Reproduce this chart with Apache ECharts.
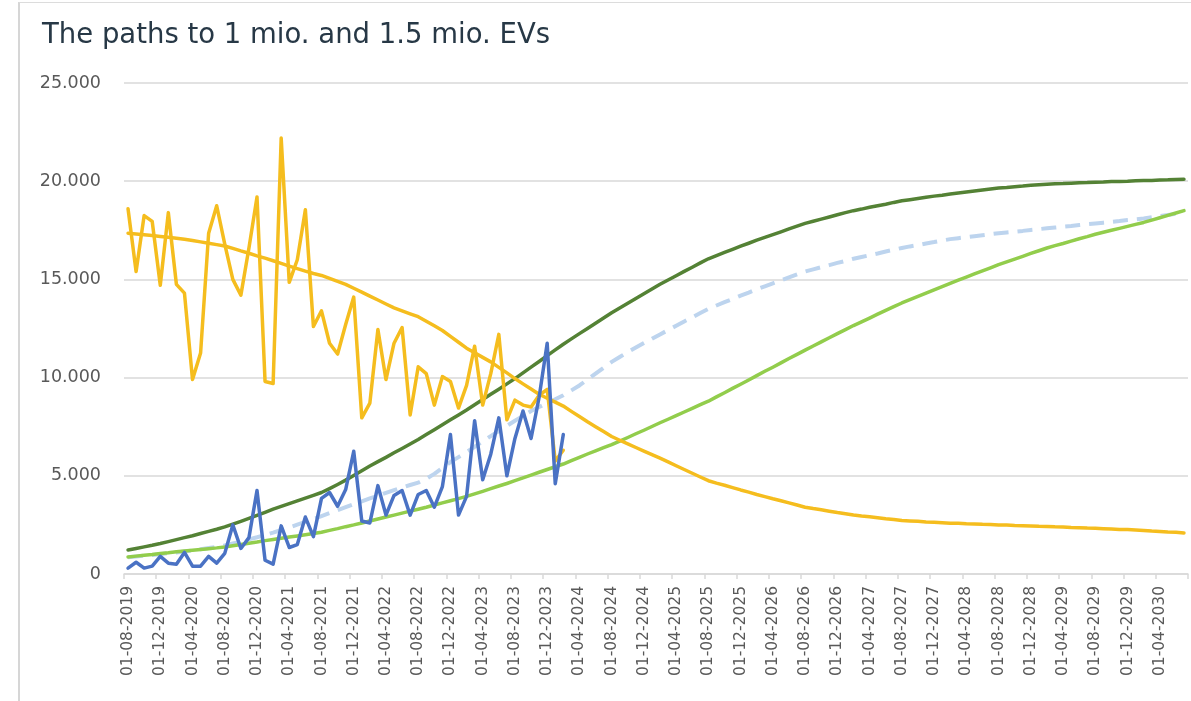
<!DOCTYPE html>
<html>
<head>
<meta charset="utf-8">
<script src="https://cdn.jsdelivr.net/npm/echarts@6/dist/echarts.min.js"></script>
<style>
  html, body { margin: 0; padding: 0; background: #ffffff; }
  #chart { position: absolute; left: 0; top: 0; width: 1191px; height: 701px; }
  #frame { position: absolute; left: 18px; top: 2px; width: 1173px; height: 699px;
           border-left: 2px solid #d6d6d6; border-top: 1px solid #dcdcdc; box-sizing: border-box; pointer-events: none; }
</style>
</head>
<body>
<div id="chart"></div>
<div id="frame"></div>
<script>
// Monthly categories 01-08-2019 ... 01-07-2030
const categories = [];
for (let k = 0; k < 132; k++) {
  const m = (7 + k) % 12 + 1;
  const y = 2019 + Math.floor((7 + k) / 12);
  categories.push('01-' + String(m).padStart(2, '0') + '-' + y);
}
const yTicks = [0, 5000, 10000, 15000, 20000, 25000];

// Actual monthly values (noisy)
const yellowActual = [18600, 15400, 18250, 17950, 14700, 18400, 14750, 14300, 9900, 11250,
  17350, 18750, 16800, 15000, 14200, 16600, 19200, 9800, 9700, 22200,
  14850, 16000, 18550, 12600, 13400, 11750, 11200, 12700, 14100, 7950,
  8700, 12450, 9900, 11750, 12550, 8100, 10550, 10200, 8600, 10050,
  9800, 8450, 9600, 11600, 8600, 10200, 12200, 7850, 8850, 8600,
  8500, 9100, 9400, 5750, 6300];
const blueActual = [300, 600, 300, 400, 900, 550, 500, 1100, 400, 400,
  900, 550, 1050, 2500, 1300, 1850, 4250, 700, 500, 2450,
  1350, 1500, 2900, 1900, 3850, 4150, 3450, 4300, 6250, 2700,
  2600, 4500, 3000, 4000, 4250, 3000, 4050, 4250, 3400, 4450,
  7100, 3000, 3950, 7800, 4800, 6100, 7950, 5000, 6900, 8300,
  6900, 9000, 11750, 4600, 7100];

// Trend paths
const yellowTrend = [17350, 17310, 17270, 17230, 17190, 17150, 17100, 17040, 16980, 16910,
  16840, 16770, 16700, 16580, 16450, 16330, 16200, 16080, 15950, 15820,
  15680, 15550, 15420, 15300, 15200, 15050, 14900, 14750, 14550, 14350,
  14150, 13950, 13750, 13550, 13400, 13250, 13100, 12870, 12640, 12400,
  12100, 11800, 11500, 11260, 11030, 10800, 10520, 10240, 9950, 9680,
  9420, 9150, 8950, 8750, 8550, 8280, 8020, 7750, 7500, 7250,
  7000, 6810, 6630, 6440, 6260, 6080, 5900, 5710, 5510, 5320,
  5130, 4940, 4750, 4630, 4520, 4400, 4280, 4170, 4050, 3940,
  3830, 3730, 3620, 3510, 3400, 3330, 3270, 3200, 3130, 3070,
  3000, 2950, 2910, 2860, 2810, 2770, 2720, 2700, 2680, 2650,
  2630, 2610, 2590, 2580, 2560, 2550, 2530, 2520, 2500, 2490,
  2470, 2460, 2450, 2430, 2420, 2400, 2390, 2370, 2360, 2340,
  2330, 2310, 2290, 2270, 2260, 2240, 2220, 2190, 2170, 2140,
  2120, 2090];
const darkGreenPath = [1220, 1300, 1380, 1460, 1550, 1650, 1750, 1850, 1950, 2060,
  2170, 2280, 2400, 2540, 2680, 2830, 2980, 3140, 3300, 3440,
  3580, 3720, 3860, 4000, 4150, 4350, 4560, 4780, 5020, 5260,
  5500, 5720, 5940, 6170, 6390, 6620, 6850, 7100, 7350, 7600,
  7850, 8100, 8350, 8620, 8880, 9150, 9410, 9680, 9950, 10240,
  10530, 10820, 11120, 11410, 11700, 11970, 12240, 12500, 12770, 13030,
  13300, 13540, 13790, 14030, 14270, 14510, 14750, 14970, 15190, 15410,
  15620, 15840, 16050, 16210, 16370, 16530, 16690, 16840, 17000, 17140,
  17280, 17420, 17570, 17710, 17850, 17960, 18070, 18180, 18290, 18400,
  18500, 18580, 18670, 18750, 18830, 18920, 19000, 19060, 19120, 19180,
  19240, 19290, 19350, 19400, 19450, 19500, 19550, 19600, 19650, 19680,
  19720, 19750, 19790, 19820, 19850, 19870, 19880, 19900, 19920, 19930,
  19950, 19960, 19980, 19990, 20000, 20020, 20030, 20040, 20060, 20070,
  20090, 20100];
const lightGreenPath = [870, 910, 950, 990, 1040, 1080, 1130, 1170, 1210, 1250,
  1290, 1330, 1380, 1440, 1500, 1570, 1630, 1700, 1760, 1820,
  1880, 1940, 2000, 2060, 2130, 2220, 2310, 2410, 2500, 2600,
  2700, 2800, 2900, 3000, 3100, 3200, 3300, 3400, 3510, 3620,
  3730, 3840, 3950, 4080, 4210, 4350, 4480, 4610, 4750, 4890,
  5030, 5180, 5320, 5460, 5600, 5770, 5940, 6110, 6270, 6430,
  6590, 6770, 6950, 7140, 7320, 7510, 7700, 7880, 8060, 8250,
  8430, 8620, 8800, 9020, 9230, 9450, 9660, 9880, 10100, 10320,
  10530, 10750, 10970, 11180, 11400, 11610, 11820, 12030, 12240, 12440,
  12650, 12840, 13030, 13230, 13420, 13610, 13800, 13970, 14130, 14300,
  14470, 14630, 14800, 14960, 15120, 15280, 15430, 15590, 15750, 15890,
  16030, 16170, 16320, 16460, 16600, 16720, 16830, 16950, 17070, 17180,
  17300, 17400, 17500, 17600, 17700, 17800, 17900, 18020, 18140, 18260,
  18380, 18500];
const lightBluePath = [850, 890, 930, 970, 1010, 1060, 1100, 1150, 1200, 1260,
  1320, 1380, 1450, 1550, 1650, 1760, 1870, 1990, 2110, 2240,
  2370, 2510, 2650, 2800, 2950, 3100, 3250, 3400, 3550, 3700,
  3850, 3990, 4130, 4270, 4400, 4530, 4650, 4850, 5100, 5400,
  5700, 5950, 6200, 6480, 6750, 7020, 7280, 7540, 7800, 8050,
  8300, 8500, 8700, 8900, 9100, 9350, 9600, 9900, 10200, 10500,
  10800, 11050, 11300, 11530, 11760, 11980, 12200, 12420, 12640, 12860,
  13070, 13290, 13500, 13670, 13840, 14000, 14170, 14330, 14500, 14650,
  14800, 14950, 15100, 15250, 15400, 15510, 15620, 15730, 15840, 15940,
  16050, 16140, 16230, 16320, 16420, 16510, 16600, 16680, 16750, 16830,
  16900, 16980, 17050, 17100, 17150, 17200, 17250, 17300, 17350, 17390,
  17430, 17470, 17520, 17560, 17600, 17640, 17680, 17720, 17770, 17810,
  17850, 17890, 17930, 17970, 18020, 18060, 18100, 18160, 18220, 18280,
  18340, 18400];

const FONT = '"DejaVu Sans", Verdana, sans-serif';
function fmt(v) { return String(v).replace(/\B(?=(\d{3})+(?!\d))/g, '.'); }
function lineSeries(name, data, color, extra) {
  return Object.assign({
    name: name, type: 'line', data: data, symbol: 'none', smooth: false,
    lineStyle: { color: color, width: 3.5, cap: 'round', join: 'round' },
    itemStyle: { color: color }, silent: true
  }, extra || {});
}

const chart = echarts.init(document.getElementById('chart'), null, { renderer: 'canvas' });
chart.setOption({
  animation: false,
  backgroundColor: '#ffffff',
  title: {
    text: 'The paths to 1 mio. and 1.5 mio. EVs',
    left: 42, top: 22, padding: 0,
    textStyle: { fontFamily: FONT, fontSize: 27.5, fontWeight: 'normal', color: '#273846' }
  },
  grid: { left: 124, right: 3, top: 83, bottom: 127, containLabel: false },
  xAxis: {
    type: 'category', data: categories, boundaryGap: true,
    axisLine: { show: true, lineStyle: { color: '#d9d9d9', width: 1.5 } },
    axisTick: { show: true, interval: 3, length: 5, lineStyle: { color: '#d9d9d9', width: 1.5 } },
    axisLabel: { interval: 3, rotate: 90, margin: 12, color: '#595959', fontFamily: FONT, fontSize: 15.5 },
    splitLine: { show: false }
  },
  yAxis: {
    type: 'value', min: yTicks[0], max: yTicks[yTicks.length - 1], interval: 5000,
    axisLine: { show: false }, axisTick: { show: false },
    axisLabel: { margin: 23, color: '#595959', fontFamily: FONT, fontSize: 17.5, formatter: fmt },
    splitLine: { lineStyle: { color: '#d9d9d9', width: 1.5 } }
  },
  series: [
    lineSeries('Path 1.5 mio. (dashed)', lightBluePath, '#bdd4ee', { lineStyle: { color: '#bdd4ee', width: 4, type: [15, 9], cap: 'butt' } }),
    lineSeries('Path 1 mio.', lightGreenPath, '#92cd4c'),
    lineSeries('Path 1.5 mio.', darkGreenPath, '#548235'),
    lineSeries('Trend', yellowTrend, '#f5bd1e'),
    lineSeries('Actual yellow', yellowActual, '#f5bd1e'),
    lineSeries('Actual blue', blueActual, '#4a72c4')
  ]
});
</script>
</body>
</html>
